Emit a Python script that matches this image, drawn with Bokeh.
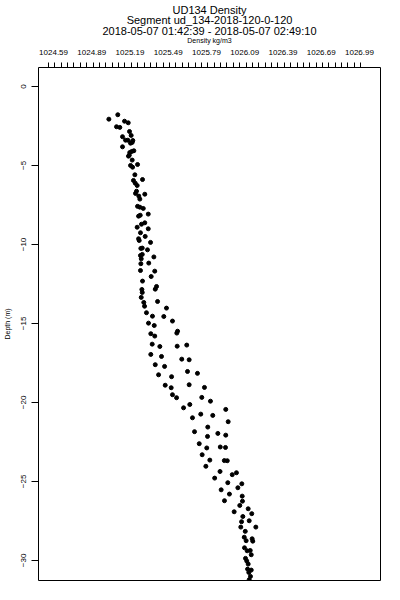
import numpy as np
from bokeh.plotting import figure
from bokeh.models import FixedTicker, Range1d, LinearAxis
from bokeh.embed import file_html
from bokeh.resources import INLINE

# --- data ---
density = [
    1025.024, 1025.094, 1025.147, 1025.176, 1025.084, 1025.110, 1025.186, 1025.199,
    1025.131, 1025.155, 1025.173, 1025.212, 1025.194, 1025.207, 1025.131, 1025.220,
    1025.204, 1025.188, 1025.178, 1025.184, 1025.207, 1025.249, 1025.194, 1025.210,
    1025.228, 1025.288, 1025.217, 1025.231, 1025.246, 1025.241, 1025.233, 1025.306,
    1025.259, 1025.267, 1025.249, 1025.267, 1025.294, 1025.333, 1025.257, 1025.270,
    1025.306, 1025.280, 1025.246, 1025.333, 1025.272, 1025.309, 1025.257, 1025.262,
    1025.351, 1025.286, 1025.275, 1025.327, 1025.272, 1025.286, 1025.377, 1025.278,
    1025.337, 1025.275, 1025.272, 1025.384, 1025.356, 1025.288, 1025.398, 1025.388,
    1025.283, 1025.286, 1025.278, 1025.298, 1025.304, 1025.406, 1025.476, 1025.319,
    1025.366, 1025.455, 1025.523, 1025.335, 1025.380, 1025.563, 1025.557, 1025.353,
    1025.384, 1025.364, 1025.424, 1025.560, 1025.635, 1025.353, 1025.437, 1025.596,
    1025.654, 1025.388, 1025.461, 1025.641, 1025.719, 1025.414, 1025.516, 1025.466,
    1025.513, 1025.654, 1025.774, 1025.523, 1025.555, 1025.753, 1025.821, 1025.659,
    1025.610, 1025.941, 1025.745, 1025.839, 1025.680, 1025.960, 1025.800, 1025.696,
    1025.879, 1025.941, 1025.798, 1025.733, 1025.792, 1025.898, 1025.939, 1025.756,
    1025.816, 1025.930, 1025.953, 1025.785, 1025.896, 1025.992, 1026.025, 1025.854,
    1025.957, 1026.067, 1026.036, 1025.905, 1025.970, 1026.070, 1026.072, 1025.931,
    1026.051, 1026.007, 1026.117, 1026.145, 1026.075, 1026.125, 1026.065, 1026.059,
    1026.177, 1026.094, 1026.086, 1026.101, 1026.148, 1026.153, 1026.088, 1026.109,
    1026.133, 1026.141, 1026.096, 1026.106, 1026.117, 1026.112, 1026.141, 1026.122,
    1026.135, 1026.125,
]
depth = [
    -2.07, -1.79, -2.20, -2.30, -2.55, -2.59, -2.85, -3.10,
    -3.18, -3.40, -3.40, -3.42, -3.59, -3.54, -3.82, -4.07,
    -4.11, -4.18, -4.41, -4.35, -4.66, -4.94, -5.00, -5.11,
    -5.59, -5.89, -5.95, -6.12, -6.27, -6.63, -6.77, -6.82,
    -6.94, -7.13, -7.59, -7.64, -7.72, -8.08, -8.21, -8.15,
    -8.63, -8.72, -8.91, -9.01, -9.26, -9.49, -9.64, -9.75,
    -9.87, -10.23, -10.25, -10.34, -10.70, -10.63, -10.79, -10.91,
    -11.18, -11.22, -11.65, -11.69, -12.03, -12.32, -12.66, -12.83,
    -12.85, -13.04, -13.35, -13.67, -13.91, -13.61, -14.03, -14.32,
    -14.54, -14.56, -14.85, -14.98, -15.13, -15.49, -15.61, -15.65,
    -15.80, -16.31, -16.46, -16.44, -16.37, -16.96, -17.09, -17.26,
    -17.30, -17.61, -17.72, -18.04, -18.16, -18.25, -18.37, -18.91,
    -19.07, -18.88, -19.05, -19.51, -19.70, -19.68, -19.92, -20.13,
    -20.34, -20.44, -20.74, -20.82, -20.97, -21.22, -21.56, -21.85,
    -21.96, -22.07, -22.15, -22.61, -22.88, -22.82, -22.85, -23.31,
    -23.65, -23.68, -23.69, -24.04, -24.37, -24.57, -24.45, -24.79,
    -25.08, -25.15, -25.40, -25.53, -25.80, -25.93, -26.25, -26.22,
    -26.52, -26.92, -26.73, -27.04, -27.22, -27.49, -27.55, -27.89,
    -27.89, -28.16, -28.53, -28.75, -28.63, -28.78, -29.20, -29.39,
    -29.37, -29.64, -29.87, -30.04, -30.23, -30.55, -30.61, -30.76,
    -31.01, -31.22,
]
x_tick_values = [1024.59, 1024.89, 1025.19, 1025.49, 1025.79, 1026.09, 1026.39, 1026.69, 1026.99]
x_tick_labels = ["1024.59", "1024.89", "1025.19", "1025.49", "1025.79", "1026.09", "1026.39", "1026.69", "1026.99"]
y_tick_values = [0, -5, -10, -15, -20, -25, -30]
title_lines = ["UD134 Density", "Segment ud_134-2018-120-0-120",
               "2018-05-07 01:42:39 - 2018-05-07 02:49:10"]
x_label = "Density kg/m3"
y_label = "Depth (m)"

FONT = "Liberation Sans"
W, H = 384, 584

p = figure(width=W, height=H, output_backend="svg", toolbar_location=None,
           x_axis_location="above",
           x_range=Range1d(1024.472, 1027.155), y_range=Range1d(-31.27, 1.2),
           min_border_left=38, min_border_right=4, min_border_top=67,
           min_border_bottom=4)

p.outline_line_color = "black"
p.outline_line_width = 1
p.xgrid.visible = False
p.ygrid.visible = False
p.background_fill_color = "white"
p.border_fill_color = "white"

xa = p.xaxis[0]
minor = [round(v, 2) for v in np.arange(1024.55, 1027.001, 0.05)]
xa.ticker = FixedTicker(ticks=x_tick_values, minor_ticks=minor)
xa.major_label_overrides = {v: s for v, s in zip(x_tick_values, x_tick_labels)}
xa.major_tick_out = 0
xa.major_tick_in = 0
xa.minor_tick_out = 5
xa.minor_tick_in = 0
xa.minor_tick_line_color = "black"
xa.axis_line_color = None
xa.major_label_standoff = 8
xa.major_label_text_font = FONT
xa.major_label_text_font_size = "8px"
xa.major_label_text_color = "black"
xa.axis_label = x_label
xa.axis_label_text_font = FONT
xa.axis_label_text_font_size = "7px"
xa.axis_label_text_font_style = "normal"
xa.axis_label_text_color = "black"
xa.axis_label_standoff = 3

# title block: a tick-less axis above whose label carries the three title lines
title_axis = LinearAxis(ticker=FixedTicker(ticks=[], minor_ticks=[]),
                        axis_label="\n".join(title_lines))
title_axis.major_tick_out = 0
title_axis.major_tick_in = 0
title_axis.minor_tick_out = 0
title_axis.minor_tick_in = 0
title_axis.axis_line_color = None
title_axis.major_label_standoff = 0
title_axis.major_label_text_font_size = "0px"
title_axis.axis_label_standoff = -3
title_axis.axis_label_text_font = FONT
title_axis.axis_label_text_font_size = "11px"
title_axis.axis_label_text_font_style = "normal"
title_axis.axis_label_text_color = "black"
title_axis.axis_label_text_line_height = 0.85
p.add_layout(title_axis, "above")

ya = p.yaxis[0]
ya.ticker = FixedTicker(ticks=y_tick_values, minor_ticks=[])
ya.major_tick_out = 7
ya.major_tick_in = 0
ya.major_tick_line_color = "black"
ya.minor_tick_out = 0
ya.minor_tick_in = 0
ya.axis_line_color = None
ya.major_label_orientation = "vertical"
ya.major_label_standoff = 5
ya.major_label_text_font = FONT
ya.major_label_text_font_size = "8px"
ya.major_label_text_color = "black"
ya.axis_label = y_label
ya.axis_label_text_font = FONT
ya.axis_label_text_font_size = "7px"
ya.axis_label_text_font_style = "normal"
ya.axis_label_text_color = "black"
ya.axis_label_standoff = 8

p.scatter(density, depth, marker="circle", size=4, fill_color="black",
          line_color="black", line_width=1)

open("out.html", "w").write(file_html(p, INLINE))
